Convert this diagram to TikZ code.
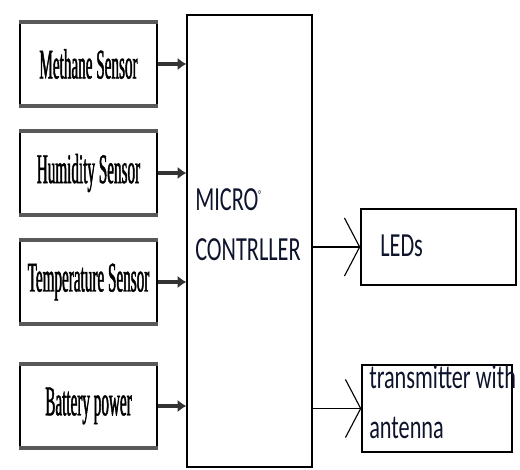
\documentclass[tikz,border=0pt]{standalone}
\usepackage{fontspec}
\usepackage{tikz}
\usetikzlibrary{arrows.meta, positioning, calc}
\newfontfamily\sensorfont[FakeStretch=0.36, FakeBold=1]{Liberation Serif}
\newfontfamily\mcufont[FakeStretch=0.66]{Carlito}
\definecolor{inkblue}{RGB}{15,20,45}

\begin{document}
\begin{tikzpicture}[
  %%── Styles ───────────────────────────────────────────────────────────────
  sensor/.style={
    draw=black, line width=1pt,
    minimum width=3.425cm, minimum height=2.05cm,
    font=\sensorfont\fontsize{30}{32}\selectfont,
    append after command={
      (\tikzlastnode.north west) edge[draw=black!65, line width=3pt] (\tikzlastnode.north east)
      (\tikzlastnode.south west) edge[draw=black!65, line width=3pt] (\tikzlastnode.south east)
    }
  },
  mcubox/.style={draw=black, line width=1pt, minimum width=3.125cm, minimum height=11.3cm},
  outbox/.style={draw=black, line width=1pt},
  labeltext/.style={
    text=inkblue, inner sep=0pt, align=left,
    font=\mcufont\fontsize{24}{35}\selectfont
  },
  feed/.style={draw=black!80, line width=2.2pt, -{Latex[length=0.22cm, width=0.32cm]}},
  signal/.style={draw=black, line width=0.8pt, -{Straight Barb[length=0.38cm, width=1.45cm]}},
]
\useasboundingbox (0,0) rectangle (13,-11.725);

%%── Sensor blocks (left column) ─────────────────────────────────────────
\node[sensor] (methane) at (2.2125, -1.6)   {Methane Sensor};
\node[sensor] (humid)   at (2.2125, -4.325) {Humidity Sensor};
\node[sensor] (temp)    at (2.2125, -7.05)  {Temperature Sensor};
\node[sensor] (battery) at (2.2125, -10.15) {Battery power};

%%── Microcontroller (tall middle box) ───────────────────────────────────
\node[mcubox] (mcu) at (6.2375, -6.025) {};
%% base of a two-line node = baseline of its last line
\node[labeltext, anchor=base west] (mcutext) at (4.875, -6.5)
    {MICRO\textsuperscript{\fontsize{8}{8}\selectfont°}\\CONTRLLER};

%%── Outputs (right column) ──────────────────────────────────────────────
\node[outbox, minimum width=3.875cm, minimum height=1.9cm] (leds)
    at (10.9625, -6.175) {};
\node[labeltext, anchor=base west] (ledstext) at (9.5, -6.4) {LEDs};

\node[outbox, minimum width=3.75cm, minimum height=2.175cm] (radio)
    at (10.925, -10.2125) {};
\node[labeltext, anchor=base west] (radiotext) at (9.225, -10.95)
    {transmitter with\\antenna};

%%── Connections ─────────────────────────────────────────────────────────
\foreach \s in {methane, humid, temp, battery} {
  \draw[feed] (\s.east) -- (\s.east -| mcu.west);
}
\draw[signal] (mcu.east |- leds.west) -- (leds.west);
\draw[signal] (mcu.east |- radio.west) -- (radio.west);

\end{tikzpicture}
\end{document}
